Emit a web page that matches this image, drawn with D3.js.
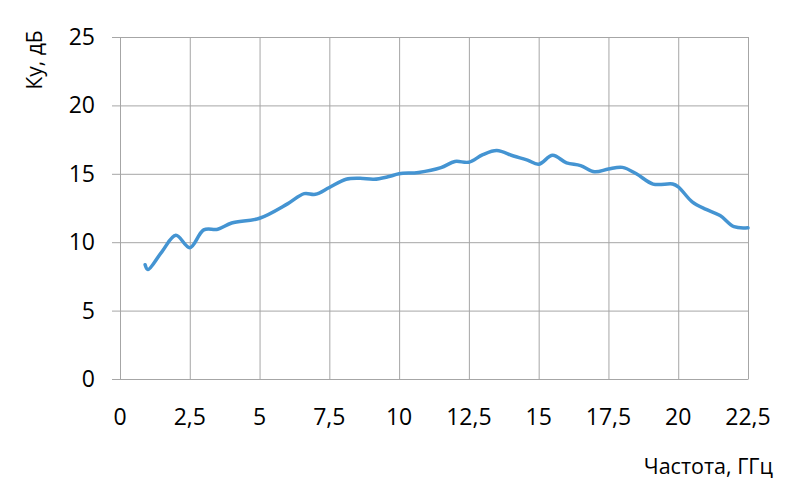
<!DOCTYPE html>
<html>
<head>
<meta charset="utf-8">
<script src="https://cdn.jsdelivr.net/npm/d3@7"></script>
<style>
  body { margin: 0; background: #fff; }
  svg text { font-family: "Open Sans", "Noto Sans", sans-serif; fill: #000; }
</style>
</head>
<body>
<svg id="chart" width="800" height="501"></svg>
<script>
// frequency, GHz
var freq = [0.9, 1.0, 1.5, 2.0, 2.5, 3.0, 3.5, 4.0, 5.0, 6.0, 6.6, 7.0, 7.5, 8.1, 8.6, 9.1, 9.6,
  10.0, 10.7, 11.5, 12.0, 12.5, 13.0, 13.5, 14.1, 14.6, 15.0, 15.5, 16.0, 16.5, 17.0, 17.5,
  18.0, 18.5, 19.1, 19.8, 20.0, 20.5, 21.0, 21.5, 22.0, 22.5];
// gain, dB
var gain = [8.35, 8.0, 9.3, 10.5, 9.6, 10.9, 10.95, 11.4, 11.75, 12.8, 13.55, 13.5, 14.0, 14.6, 14.67, 14.6, 14.78,
  15.0, 15.1, 15.45, 15.9, 15.85, 16.4, 16.7, 16.3, 16.0, 15.7, 16.35, 15.8, 15.6, 15.15, 15.35,
  15.47, 15.0, 14.25, 14.25, 14.05, 12.95, 12.4, 11.95, 11.13, 11.05];
var xTicks = [0, 2.5, 5, 7.5, 10, 12.5, 15, 17.5, 20, 22.5];
var yTicks = [0, 5, 10, 15, 20, 25];

var svg = d3.select("#chart");
var x = d3.scaleLinear().domain([0, 22.5]).range([120, 748]);
var y = d3.scaleLinear().domain([0, 25]).range([379, 37]);
var fmt = function (d) { return String(d).replace(".", ","); };
var gridColor = "#a6a6a6";

// vertical grid
svg.append("g").selectAll("line").data(xTicks).enter().append("line")
  .attr("x1", d => x(d) + 0.5).attr("x2", d => x(d) + 0.5)
  .attr("y1", y(25)).attr("y2", y(0))
  .attr("stroke", gridColor).attr("stroke-width", 1);

// horizontal grid + y ticks
svg.append("g").selectAll("line").data(yTicks).enter().append("line")
  .attr("x1", x(0) - 8).attr("x2", x(22.5) + 0.5)
  .attr("y1", d => y(d) + 0.5).attr("y2", d => y(d) + 0.5)
  .attr("stroke", gridColor).attr("stroke-width", 1);

// y tick labels
svg.append("g").selectAll("text").data(yTicks).enter().append("text")
  .attr("x", 95).attr("y", d => y(d) + 8)
  .attr("text-anchor", "end").attr("font-size", 23)
  .text(fmt);

// x tick labels
svg.append("g").selectAll("text").data(xTicks).enter().append("text")
  .attr("x", d => x(d)).attr("y", 425)
  .attr("text-anchor", "middle").attr("font-size", 23)
  .text(fmt);

// axis titles
svg.append("text")
  .attr("transform", "translate(42,60) rotate(-90)")
  .attr("text-anchor", "middle").attr("font-size", 21)
  .text("Ку, дБ");
svg.append("text")
  .attr("x", 773).attr("y", 474)
  .attr("text-anchor", "end").attr("font-size", 21.5)
  .text("Частота, ГГц");

// curve
var pts = freq.map((f, i) => [f, gain[i]]);
var line = d3.line().x(d => x(d[0])).y(d => y(d[1])).curve(d3.curveCatmullRom.alpha(0.5));
svg.append("path").datum(pts)
  .attr("d", line)
  .attr("fill", "none")
  .attr("stroke", "#4494d2")
  .attr("stroke-width", 3.5)
  .attr("stroke-linejoin", "round")
  .attr("stroke-linecap", "round");
</script>
</body>
</html>
